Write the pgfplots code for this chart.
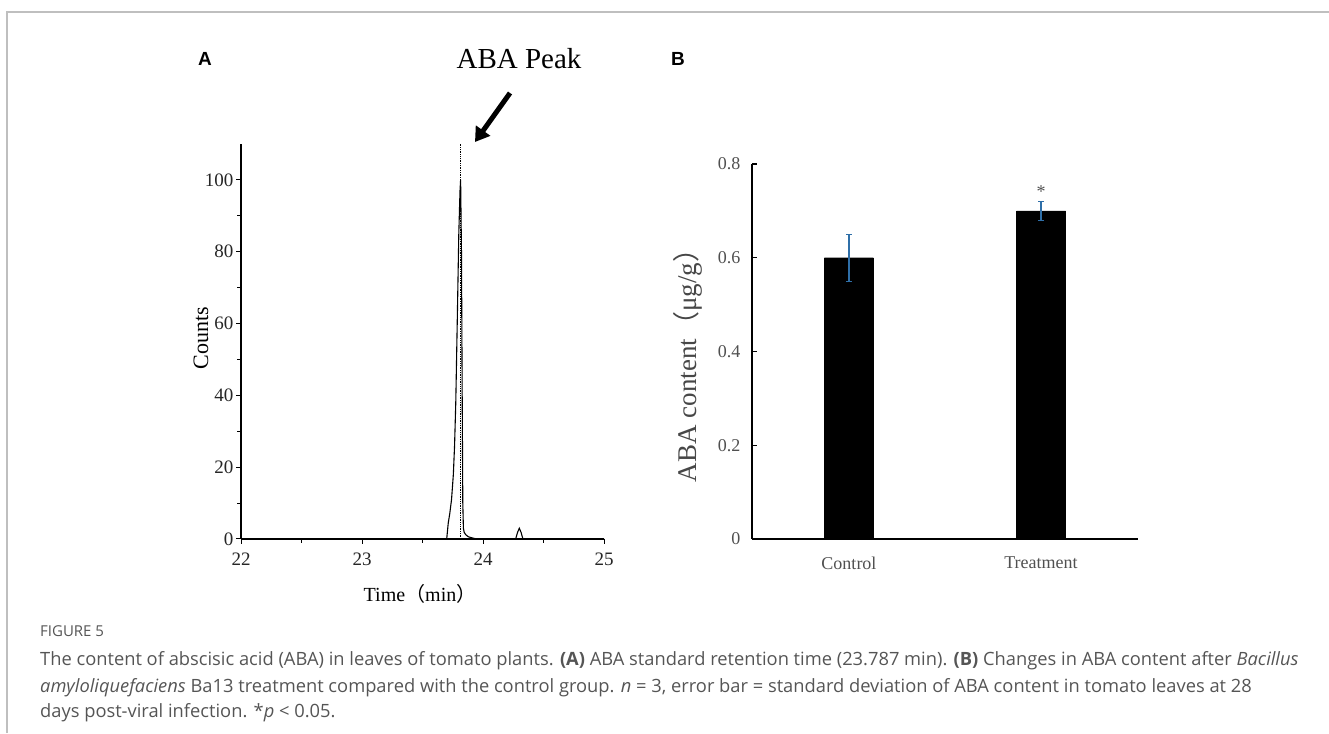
\documentclass[border=0pt]{standalone}
\usepackage{fontspec}
\usepackage{pgfplots}
\pgfplotsset{compat=1.18}
\usetikzlibrary{arrows.meta}
\setmainfont{Liberation Serif}
\newfontfamily\capfont{Open Sans}
\newfontfamily\labfont{Liberation Sans}
\newfontfamily\cjk{Noto Sans CJK SC}
\definecolor{errblue}{HTML}{2F6FA8}
\definecolor{capgray}{HTML}{555555}
\definecolor{tickgray}{HTML}{505050}
\begin{document}
\begin{tikzpicture}[x=1pt,y=1pt]
\useasboundingbox (0,0) rectangle (1329,733);
% frame
\draw[black!25, line width=1.2pt] (7,0) -- (7,721) -- (1329,721);
% panel labels
\node[font=\labfont\bfseries\fontsize{19}{19}\selectfont] at (205,674) {A};
\node[font=\labfont\bfseries\fontsize{19}{19}\selectfont] at (678,674) {B};
\node[font=\fontsize{29}{29}\selectfont] at (519,674) {ABA Peak};
\draw[line width=5pt, -{Triangle[length=14pt,width=17pt]}] (510,640) -- (475,591);

% Panel A
\begin{axis}[at={(241pt,194pt)}, anchor=south west, scale only axis,
  width=363pt, height=395pt,
  xmin=22, xmax=25, ymin=0, ymax=110,
  axis lines=left, axis line style={-, line width=1.3pt},
  xtick={22,23,24,25}, ytick={0,20,40,60,80,100},
  minor xtick={22.5,23.5,24.5}, minor ytick={10,30,50,70,90},
  tick align=outside, major tick length=5pt, minor tick length=4pt,
  tick style={line width=1pt, black},
  ticklabel style={font=\fontsize{19}{19}\selectfont, text=black!85},
  yticklabel style={xshift=1pt},
  xticklabel style={yshift=-5pt},
  /pgf/number format/assume math mode=true,
  clip=false]
\addplot[black, line width=1.1pt] coordinates {
(22,0) (23.70,0) (23.713,4.5) (23.725,7) (23.74,11) (23.755,18) (23.765,26) (23.775,38) (23.788,62) (23.80,85) (23.81,97) (23.815,100)
(23.822,80) (23.828,40) (23.833,10) (23.838,3) (23.845,1.8) (23.86,1.1) (23.88,0.6) (23.91,0.3) (23.95,0)
(24.27,0) (24.285,1.8) (24.30,3) (24.315,1.8) (24.33,0) (25,0)};
\addplot[black, densely dotted, line width=1.3pt] coordinates {(23.816,0) (23.816,110)};
\end{axis}
\node[rotate=90, font=\fontsize{22}{22}\selectfont] at (201,395) {Counts};
\node[font=\fontsize{20}{20}\selectfont] at (420,139) {Time{\cjk （}min{\cjk ）}};

% Panel B
\begin{axis}[at={(752pt,194pt)}, anchor=south west, scale only axis,
  width=386pt, height=375pt,
  xmin=-0.505, xmax=1.505, ymin=0, ymax=0.8,
  axis x line=bottom, axis y line=left,
  axis line style={-, line width=1.6pt},
  xtick={0,1}, xticklabels={Control,Treatment},
  x tick style={draw=none},
  ytick={0,0.2,0.4,0.6,0.8}, yticklabels={0,0.2,0.4,0.6,0.8},
  y tick style={line width=1.3pt, black}, tick align=inside, major tick length=5pt,
  ticklabel style={font=\fontsize{18}{18}\selectfont, text=tickgray},
  yticklabel style={xshift=-8pt},
  xticklabel style={yshift=-14pt},
  /pgf/number format/assume math mode=true,
  clip=false]
\addplot[ybar, bar width=49pt, fill=black, draw=black,
  error bars/.cd, y dir=both, y explicit,
  error bar style={color=errblue, line width=1.1pt},
  error mark options={rotate=90, mark size=2.8pt, color=errblue, line width=1.1pt}]
  coordinates {(0,0.6) +- (0,0.05) (1,0.7) +- (0,0.02)};
\node[font=\fontsize{18}{18}\selectfont, text=tickgray] at (axis cs:1,0.742) {*};
\end{axis}
\node[rotate=90, font=\fontsize{27}{27}\selectfont, text=black!72] at (688,374) {ABA content{\cjk （}μg/g{\cjk ）}};

% caption
\node[anchor=base west, font=\capfont\fontsize{15}{15}\selectfont, text=capgray, inner sep=0pt] at (40,96) {FIGURE 5};
\node[anchor=base west, font=\capfont\fontsize{18.3}{18.3}\selectfont, text=capgray, inner sep=0pt] at (40,67) {The content of abscisic acid (ABA) in leaves of tomato plants. \textbf{(A)} ABA standard retention time (23.787 min). \textbf{(B)} Changes in ABA content after \textit{Bacillus}};
\node[anchor=base west, font=\capfont\fontsize{18.3}{18.3}\selectfont, text=capgray, inner sep=0pt] at (40,41) {\textit{amyloliquefaciens} Ba13 treatment compared with the control group. \textit{n} = 3, error bar = standard deviation of ABA content in tomato leaves at 28};
\node[anchor=base west, font=\capfont\fontsize{18.3}{18.3}\selectfont, text=capgray, inner sep=0pt] at (40,16) {days post-viral infection. *\textit{p} < 0.05.};
\end{tikzpicture}
\end{document}
